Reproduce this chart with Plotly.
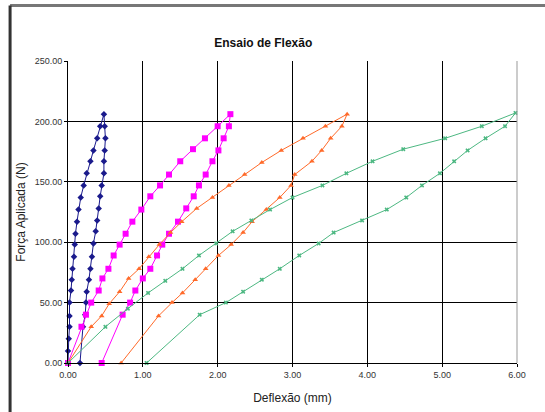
import plotly.graph_objects as go

# ---- data (Deflexão mm, Força N) ----
blue_x = [0.00, 0.00, 0.01, 0.02, 0.02, 0.02, 0.04, 0.05, 0.06, 0.08, 0.09, 0.10, 0.12, 0.14, 0.17, 0.21,
          0.25, 0.30, 0.34, 0.39, 0.43, 0.48,
          0.49, 0.50, 0.49, 0.48, 0.48, 0.45, 0.43, 0.41, 0.39, 0.37, 0.34, 0.32, 0.30, 0.28, 0.25,
          0.24, 0.23, 0.20, 0.16]
blue_y = [0, 10, 20, 30, 39, 50, 60, 69, 78, 88, 98, 107, 117, 127, 137, 147,
          157, 167, 176, 186, 196, 206,
          196, 186, 176, 167, 157, 147, 138, 128, 118, 109, 99, 88, 78, 69, 59,
          50, 40, 30, 0]

mag_x = [0.00, 0.18, 0.24, 0.31, 0.41, 0.46, 0.54, 0.61, 0.69, 0.77, 0.86, 0.98, 1.10, 1.23, 1.35,
         1.50, 1.67, 1.83, 2.00, 2.17,
         2.15, 2.08, 2.01, 1.93, 1.84, 1.75, 1.68, 1.58, 1.47, 1.35, 1.26, 1.19, 1.10, 1.00, 0.90,
         0.83, 0.73, 0.45]
mag_y = [0, 30, 40, 50, 60, 70, 78, 89, 98, 107, 117, 127, 138, 147, 156,
         167, 177, 186, 196, 206,
         196, 186, 176, 167, 156, 147, 138, 128, 117, 107, 98, 89, 78, 70, 60,
         50, 40, 0]

ora_x = [0.00, 0.31, 0.45, 0.55, 0.69, 0.81, 0.95, 1.08, 1.22, 1.37, 1.52, 1.72, 1.93, 2.15, 2.36,
         2.59, 2.85, 3.14, 3.44, 3.73,
         3.66, 3.51, 3.39, 3.26, 3.03, 2.98, 2.83, 2.65, 2.46, 2.34, 2.18, 2.01, 1.84, 1.70, 1.53,
         1.39, 1.21, 0.71]
ora_y = [0, 30, 39, 49, 59, 70, 78, 88, 98, 108, 117, 128, 137, 147, 156,
         166, 176, 186, 196, 206,
         196, 186, 176, 167, 156, 147, 137, 127, 117, 108, 98, 89, 78, 69, 58,
         50, 39, 0]

grn_x = [0.00, 0.50, 0.80, 1.07, 1.30, 1.53, 1.75, 1.98, 2.20, 2.45, 2.70, 3.00, 3.40, 3.72, 4.07,
         4.48, 5.04, 5.53, 5.98,
         5.84, 5.58, 5.34, 5.16, 4.97, 4.73, 4.52, 4.26, 3.93, 3.55, 3.35, 3.09, 2.83, 2.59, 2.34,
         2.11, 1.76, 1.05]
grn_y = [0, 30, 45, 58, 68, 78, 89, 99, 109, 118, 127, 137, 147, 157, 167,
         177, 186, 196, 207,
         196, 186, 176, 167, 157, 147, 137, 127, 118, 108, 99, 89, 78, 69, 59,
         50, 40, 0]

x_ticks = [0, 1, 2, 3, 4, 5, 6]
y_ticks = [0, 50, 100, 150, 200, 250]

series = [
    (blue_x, blue_y, "#1A1A8C", "diamond", 5),
    (mag_x, mag_y, "#FF00FF", "square", 6),
    (ora_x, ora_y, "#FF6A2A", "triangle-up", 5),
    (grn_x, grn_y, "#4DB882", "x", 4),
]

fig = go.Figure()
for xs, ys, col, sym, sz in series:
    fig.add_trace(go.Scatter(
        x=xs, y=ys, mode="lines+markers",
        line=dict(color=col, width=1),
        marker=dict(color=col, symbol=sym, size=sz, line=dict(width=0)),
        showlegend=False, cliponaxis=False,
    ))

axis_common = dict(
    showgrid=True, gridcolor="#000000", gridwidth=1,
    showline=True, linecolor="#000000", linewidth=1, mirror=False,
    ticks="outside", ticklen=3, tickcolor="#000000",
    tickformat=".2f", zeroline=False,
    tickfont=dict(family="Liberation Sans Narrow, Liberation Sans, Arial", size=9, color="#333333"),
)

fig.update_xaxes(range=[0, 6], tickvals=x_ticks, **axis_common,
                 title=dict(text="Deflexão (mm)", standoff=14,
                            font=dict(family="Liberation Sans, Arial", size=12, color="#222222")))
fig.update_yaxes(range=[0, 250], tickvals=y_ticks, **axis_common,
                 title=dict(text="Força Aplicada (N)", standoff=6,
                            font=dict(family="Liberation Sans, Arial", size=12, color="#222222")))

fig.update_layout(
    width=545, height=412,
    margin=dict(l=68, r=28, t=61, b=49, autoexpand=False),
    paper_bgcolor="white", plot_bgcolor="white",
    title=dict(text="<b>Ensaio de Flexão</b>", x=0.483, xanchor="center", y=0.897, yanchor="middle",
               font=dict(family="Liberation Sans Narrow, Liberation Sans, Arial", size=12, color="#111111")),
    shapes=[
        # outer chart frame (left and top edges visible)
        dict(type="line", xref="paper", yref="paper", x0=-0.129, x1=1.2, y0=1.184, y1=1.184,
             line=dict(color="#777777", width=3)),
        dict(type="line", xref="paper", yref="paper", x0=-0.129, x1=-0.129, y0=1.184, y1=-0.2,
             line=dict(color="#333333", width=3)),
        # right plot border
        dict(type="line", xref="paper", yref="paper", x0=1, x1=1, y0=0, y1=1,
             line=dict(color="#999999", width=1)),
    ],
)

fig.write_html("out.html", config={"displayModeBar": False},
               post_script="document.body.style.margin='0';")
